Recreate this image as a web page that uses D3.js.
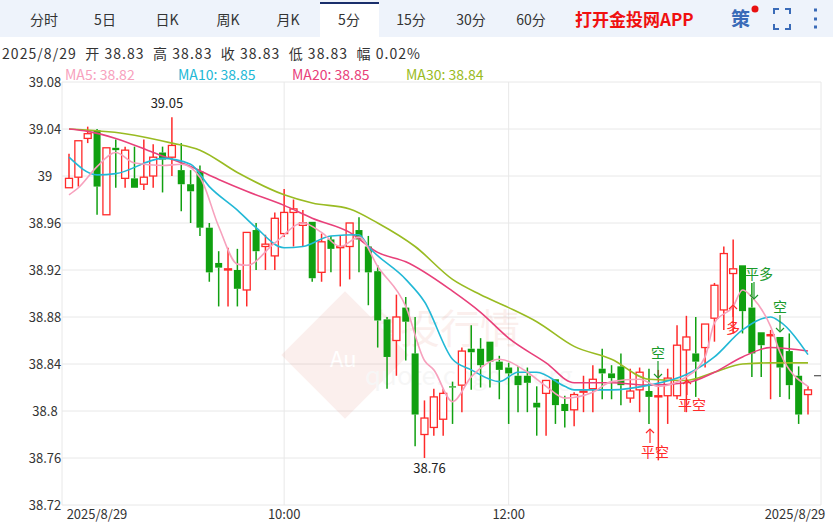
<!DOCTYPE html>
<html><head><meta charset="utf-8">
<script src="https://cdn.jsdelivr.net/npm/d3@7/dist/d3.min.js"></script>
<style>body{margin:0;background:#fff;font-family:"Noto Sans CJK SC","Noto Sans",sans-serif} text{white-space:pre}</style>
</head><body><svg id="c" width="833" height="524"></svg>
<script>
const opens =[38.990,38.999,39.032,39.039,38.967,39.024,38.998,38.998,38.993,39.000,39.020,39.016,39.005,38.993,39.004,38.956,38.926,38.920,38.920,38.903,38.954,38.940,38.932,38.951,38.969,38.958,38.961,38.918,38.946,38.939,38.940,38.954,38.940,38.919,38.878,38.860,38.888,38.849,38.780,
38.786,38.793,38.821,38.822,38.853,38.853,38.859,38.842,38.837,38.830,38.830,38.807,38.815,38.827,38.806,38.801,38.816,38.819,38.836,38.832,38.838,38.811,38.818,38.817,38.812,38.813,38.813,38.852,38.849,38.854,38.879,38.886,38.917,38.924,38.888,38.867,38.864,38.863,38.851,38.830,38.814];
const closes=[38.998,39.030,39.036,38.991,39.024,39.022,39.022,38.990,38.999,39.016,39.014,39.026,38.993,38.987,38.956,38.918,38.922,38.921,38.904,38.952,38.936,38.942,38.964,38.969,38.972,38.960,38.913,38.944,38.938,38.940,38.960,38.946,38.918,38.877,38.846,38.880,38.876,38.797,38.794,
38.812,38.815,38.820,38.851,38.850,38.839,38.842,38.835,38.832,38.822,38.824,38.803,38.826,38.805,38.800,38.814,38.817,38.827,38.832,38.828,38.822,38.817,38.833,38.812,38.813,38.828,38.856,38.863,38.842,38.874,38.907,38.934,38.921,38.885,38.849,38.856,38.865,38.837,38.822,38.797,38.818];
const highs =[39.019,39.030,39.042,39.040,39.024,39.031,39.025,39.025,39.031,39.027,39.025,39.050,39.028,39.005,39.009,38.960,38.936,38.939,38.938,38.952,38.960,38.950,38.969,38.989,38.980,38.971,38.961,38.951,38.949,38.949,38.960,38.965,38.949,38.924,38.880,38.899,38.897,38.880,38.809,
38.819,38.819,38.825,38.854,38.873,38.862,38.859,38.847,38.841,38.838,38.837,38.821,38.826,38.827,38.813,38.816,38.830,38.839,38.853,38.839,38.849,38.836,38.837,38.836,38.835,38.836,38.873,38.881,38.880,38.874,38.909,38.940,38.946,38.924,38.909,38.867,38.869,38.863,38.866,38.838,38.821];
const lows  =[38.990,38.991,39.028,38.967,38.967,38.990,38.990,38.990,38.988,38.990,38.986,39.000,38.970,38.960,38.949,38.910,38.889,38.889,38.889,38.889,38.920,38.920,38.920,38.948,38.940,38.940,38.910,38.910,38.918,38.906,38.912,38.918,38.890,38.854,38.819,38.830,38.843,38.770,38.760,
38.779,38.779,38.789,38.799,38.818,38.820,38.820,38.810,38.789,38.799,38.799,38.779,38.779,38.789,38.786,38.787,38.799,38.799,38.810,38.810,38.805,38.807,38.799,38.789,38.758,38.789,38.810,38.799,38.812,38.837,38.859,38.869,38.866,38.866,38.829,38.829,38.810,38.812,38.810,38.789,38.797];
const ma5Idx=[1,2,4,6,8,11,13,15,17,19,20,23,26,28,30,32,34,37,39,40,42,44,47,50,52,54,57,59,62,64,67,69,70,72,73,74,76,77,80];
const ma5Val=[38.984,38.990,39.008,39.020,39.011,39.009,39.010,38.999,38.957,38.925,38.924,38.943,38.960,38.952,38.940,38.948,38.923,38.889,38.843,38.835,38.808,38.829,38.844,38.833,38.821,38.811,38.816,38.825,38.827,38.821,38.829,38.846,38.875,38.889,38.903,38.897,38.872,38.850,38.821];
const ma10Idx=[1,4,6,11,14,16,19,21,24,26,29,32,33,37,39,42,44,47,49,51,54,55,59,63,67,70,73,76,77,80];
const ma10Val=[39.016,39.001,39.002,39.015,39.010,38.991,38.971,38.956,38.939,38.940,38.949,38.950,38.940,38.912,38.893,38.844,38.835,38.825,38.833,38.833,38.821,38.818,38.818,38.822,38.831,38.846,38.869,38.880,38.876,38.848];
const ma20Idx=[1,3,6,10,14,17,20,24,27,31,34,37,42,45,48,52,55,59,63,67,70,73,76,80];
const ma20Val=[39.040,39.038,39.032,39.020,39.008,38.997,38.987,38.975,38.964,38.952,38.935,38.927,38.902,38.884,38.862,38.841,38.824,38.824,38.822,38.824,38.833,38.846,38.854,38.851];
const ma30Idx=[1,7,12,15,19,24,27,31,34,38,42,45,48,51,55,59,63,67,70,73,76,80];
const ma30Val=[39.040,39.036,39.028,39.022,39.003,38.984,38.977,38.972,38.960,38.940,38.912,38.899,38.888,38.876,38.855,38.844,38.827,38.826,38.833,38.840,38.841,38.841];
const yTicks=[39.08,39.04,39,38.96,38.92,38.88,38.84,38.8,38.76,38.72];
const xTickIdx=[1,24,48,80];
const xTickLab=["2025/8/29","10:00","12:00","2025/8/29"];
const tabs=["分时","5日","日K","周K","月K","5分","15分","30分","60分"];
const tabX=[44,105,167,228,288,349,411,471,531];
const maNames=["MA5: 38.82","MA10: 38.85","MA20: 38.85","MA30: 38.84"];
const maColors=["#f7a1bd","#22b8d6","#e8407a","#99bb22"];
const signals=[{i:64,t:"空",c:"#1a9a2a",dir:"down"},{i:64,t:"平空",c:"#ff2a2a",dir:"up2"},{i:67,t:"平空",c:"#ff2a2a",dir:"up"},{i:72,t:"多",c:"#ff2a2a",dir:"up"},{i:74,t:"平多",c:"#1a9a2a",dir:"down"},{i:77,t:"空",c:"#1a9a2a",dir:"down"}];

const svg=d3.select("#c");
const x=d3.scaleLinear().domain([1,80]).range([69,808]);
const y=d3.scaleLinear().domain([38.72,39.08]).range([505,82]);
// tab bar
svg.append("rect").attr("width",833).attr("height",37).attr("fill","#eef3fb");
svg.append("rect").attr("x",320).attr("y",2).attr("width",59).attr("height",36).attr("fill","#fff");
svg.append("rect").attr("x",320).attr("y",2).attr("width",59).attr("height",2).attr("fill","#1a2f6b");
svg.selectAll(".tab").data(tabs).join("text").attr("x",(d,i)=>tabX[i]).attr("y",25).attr("text-anchor","middle")
 .attr("font-size",14).attr("fill","#333").text(d=>d);
svg.append("text").attr("x",575).attr("y",26).attr("font-size",17).attr("font-weight","bold").attr("fill","#f01010").text("打开金投网APP");
svg.append("text").attr("x",731).attr("y",26).attr("font-size",19).attr("font-weight","bold").attr("fill","#3a6bb8").text("策");
svg.append("circle").attr("cx",755).attr("cy",9).attr("r",3.5).attr("fill","#e81010");
svg.append("path").attr("d","M774 14v-5h5M785 9h5v5M790 24v5h-5M779 29h-5v-5").attr("fill","none").attr("stroke","#3a6bb8").attr("stroke-width",2);
[10,19,27].forEach(cy=>svg.append("rect").attr("x",814).attr("y",cy-1.5).attr("width",3).attr("height",3).attr("fill","#3a6bb8"));
// header
svg.append("text").attr("x",2).attr("y",59).attr("font-size",14).attr("fill","#333").attr("textLength",418).text("2025/8/29  开 38.83  高 38.83  收 38.83  低 38.83  幅 0.02%");
const maX=[65,178,292,406];
maNames.forEach((n,i)=>svg.append("text").attr("x",maX[i]).attr("y",80).attr("font-size",14).attr("fill",maColors[i]).text(n));
// grid
svg.selectAll(".gy").data(yTicks).join("line").attr("x1",62).attr("x2",821).attr("y1",d=>y(d)).attr("y2",d=>y(d)).attr("stroke","#e8e8e8");
svg.selectAll(".gx").data(xTickIdx.slice(1,3)).join("line").attr("x1",d=>x(d)).attr("x2",d=>x(d)).attr("y1",82).attr("y2",505).attr("stroke","#e8e8e8");
svg.append("line").attr("x1",62).attr("x2",62).attr("y1",82).attr("y2",505).attr("stroke","#e8e8e8");
svg.append("line").attr("x1",821).attr("x2",821).attr("y1",82).attr("y2",505).attr("stroke","#e8e8e8");
svg.selectAll(".yl").data(yTicks).join("text").attr("x",45).attr("y",d=>y(d)+5).attr("text-anchor","middle").attr("font-size",13).attr("fill","#333").text(d=>d);
svg.selectAll(".xl").data(xTickIdx).join("text").attr("x",(d,i)=>i==0?97:i==3?795:x(d)).attr("y",519).attr("text-anchor","middle").attr("font-size",13).attr("fill","#333").text((d,i)=>xTickLab[i]);
// watermark
const wm=svg.append("g").attr("opacity",0.08);
wm.append("rect").attr("x",-45).attr("y",-45).attr("width",90).attr("height",90).attr("transform","translate(345,355) rotate(45)").attr("fill","#d9432a");
wm.append("text").attr("x",330).attr("y",367).attr("font-size",22).attr("fill","#fff").text("Au");
wm.append("text").attr("x",360).attr("y",343).attr("font-size",40).attr("fill","#d9432a").text("金投行情");
wm.append("text").attr("x",365).attr("y",385).attr("font-size",26).attr("fill","#999").text("quote.cngold.org");
// candles
const data=opens.map((o,k)=>({i:k+1,o,c:closes[k],h:highs[k],l:lows[k]}));
const g=svg.append("g");
data.forEach(d=>{
 const up=d.c>=d.o, col=up?"#ff2a2a":"#10a010";
 const top=y(Math.max(d.o,d.c)), bot=y(Math.min(d.o,d.c));
 g.append("line").attr("x1",x(d.i)).attr("x2",x(d.i)).attr("y1",y(d.h)).attr("y2",top).attr("stroke",col).attr("stroke-width",1.5);
 g.append("line").attr("x1",x(d.i)).attr("x2",x(d.i)).attr("y1",bot).attr("y2",y(d.l)).attr("stroke",col).attr("stroke-width",1.5);
 g.append("rect").attr("x",x(d.i)-3.5).attr("y",top).attr("width",7).attr("height",Math.max(1,bot-top))
  .attr("fill",up?"#fff":col).attr("stroke",col).attr("stroke-width",up?1.3:0);
});
// MAs
const line=d3.line().x(d=>x(d[0])).y(d=>y(d[1])).curve(d3.curveMonotoneX);
[[ma30Idx,ma30Val],[ma20Idx,ma20Val],[ma10Idx,ma10Val],[ma5Idx,ma5Val]].forEach((m,k)=>{
 svg.append("path").attr("d",line(m[0].map((v,j)=>[v,m[1][j]]))).attr("fill","none").attr("stroke",maColors[3-k]).attr("stroke-width",1.6);
});
// labels
svg.append("text").attr("x",x(12)-5).attr("y",y(39.058)).attr("text-anchor","middle").attr("font-size",13).attr("fill","#222").text("39.05");
svg.append("text").attr("x",x(39)+5).attr("y",y(38.747)).attr("text-anchor","middle").attr("font-size",13).attr("fill","#222").text("38.76");
svg.append("line").attr("x1",814).attr("x2",821).attr("y1",y(38.83)).attr("y2",y(38.83)).attr("stroke","#333");
// signals
const sp=[[658,358],[655,457],[692,410],[733,333],[759,279],[780,312]];
signals.forEach((s,k)=>{
 const [tx,ty]=sp[k];
 svg.append("text").attr("x",tx).attr("y",ty).attr("text-anchor","middle").attr("font-size",14).attr("fill",s.c).text(s.t);
 let ax=tx-(s.t.length==2?5:0), y1,y2;
 if(s.dir=="down"){y1=ty+3;y2=ty+20;} else if(s.dir=="up2"){y1=ty-14;y2=ty-28;} else {y1=ty-15;y2=ty-30;}
 if(s.dir=="up"&&k==3){y1=ty-16;y2=ty-28;}
 svg.append("line").attr("x1",ax).attr("x2",ax).attr("y1",y1).attr("y2",y2).attr("stroke",s.c).attr("stroke-width",1.2);
 const d=y2>y1?-1:1;
 svg.append("path").attr("d",`M${ax-4},${y2+4*d}L${ax},${y2}L${ax+4},${y2+4*d}`).attr("fill","none").attr("stroke",s.c).attr("stroke-width",1.2);
});
</script></body></html>
